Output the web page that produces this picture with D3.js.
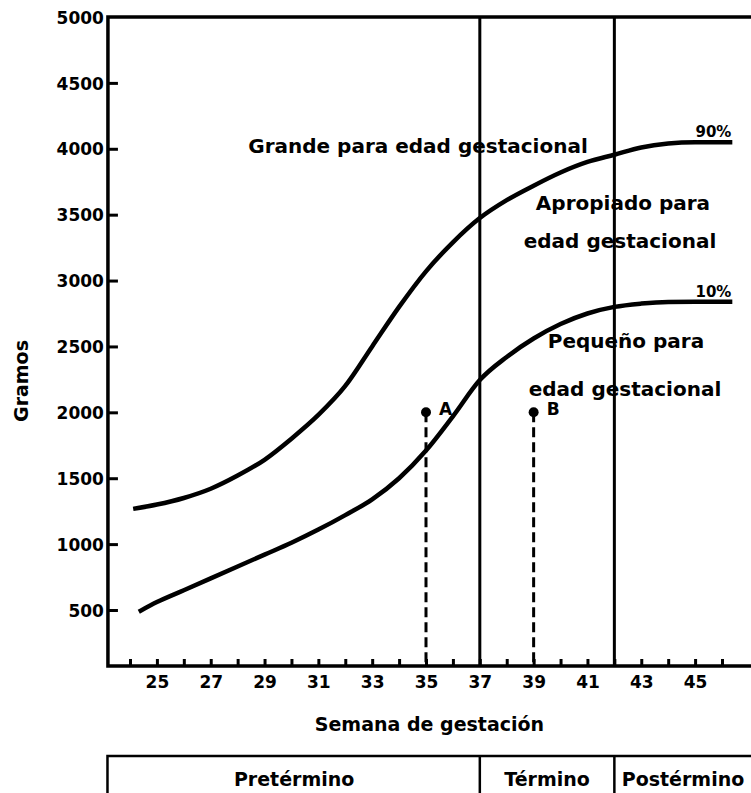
<!DOCTYPE html>
<html>
<head>
<meta charset="utf-8">
<script src="https://cdn.jsdelivr.net/npm/d3@7"></script>
<style>
  html, body { margin: 0; padding: 0; background: #fff; }
  svg { display: block; }
  text { font-family: "DejaVu Sans", sans-serif; font-weight: bold; fill: #000; }
</style>
</head>
<body>
<div id="chart"></div>
<script>
// 90th percentile curve (weeks, grams)
const weeks90 = [24.2, 25, 26, 27, 28, 29, 30, 31, 32, 33, 34, 35, 36, 37, 38, 39, 40, 41, 42, 43, 44, 45, 46.3];
const grams90 = [1270, 1300, 1350, 1420, 1520, 1640, 1800, 1980, 2200, 2500, 2800, 3070, 3290, 3474, 3610, 3720, 3820, 3900, 3955, 4010, 4040, 4050, 4050];

// 10th percentile curve
const weeks10 = [24.4, 25, 26, 27, 28, 29, 30, 31, 32, 33, 34, 35, 36, 37, 38, 39, 40, 41, 42, 43, 44, 45, 46.3];
const grams10 = [495, 560, 650, 740, 830, 920, 1010, 1110, 1220, 1340, 1500, 1710, 1970, 2245, 2420, 2560, 2670, 2750, 2800, 2825, 2838, 2840, 2840];

const yTicks = [500, 1000, 1500, 2000, 2500, 3000, 3500, 4000, 4500, 5000];
const xTicks = d3.range(24, 47);
const boundaries = [37, 42];

const cases = [
  { label: "A", week: 35, grams: 2000 },
  { label: "B", week: 39, grams: 2000 }
];

const periods = ["Pretérmino", "Término", "Postérmino"];
const periodEdges = [23.2, 37, 42, 47.1];

const width = 751, height = 793;

const svg = d3.select("#chart").append("svg")
  .attr("width", width)
  .attr("height", height);

const x = d3.scaleLinear().domain([24, 46]).range([130, 722]);
const y = d3.scaleLinear().domain([75, 5000]).range([666, 17]);
const plotL = x(23.18), plotR = width + 5, plotT = y(5000), plotB = y(75);

// y axis, ticks pointing inward
const yAxis = svg.append("g")
  .attr("transform", `translate(${plotL},0)`)
  .call(d3.axisLeft(y).tickValues(yTicks).tickSizeInner(-10).tickSizeOuter(0).tickPadding(4)
    .tickFormat(d3.format("d")));
yAxis.select(".domain").remove();
yAxis.selectAll("line").attr("stroke", "#000").attr("stroke-width", 3)
  .filter(d => d === 5000).remove();
yAxis.selectAll("text").style("font-size", "17px").attr("dy", "0.36em");

// x axis
const xAxis = svg.append("g")
  .attr("transform", `translate(0,${plotB})`)
  .call(d3.axisBottom(x).tickValues(xTicks).tickSizeInner(-7).tickSizeOuter(0).tickPadding(10)
    .tickFormat(d => d % 2 ? d : ""));
xAxis.select(".domain").remove();
xAxis.selectAll("line").attr("stroke", "#000").attr("stroke-width", 3);
xAxis.selectAll("text").style("font-size", "17px");

// frame
svg.append("path")
  .attr("d", `M${plotR},${plotT}H${plotL}V${plotB}H${plotR}`)
  .attr("fill", "none")
  .attr("stroke", "#000")
  .attr("stroke-width", 3.5);

// period boundaries
svg.append("g").selectAll("line")
  .data(boundaries)
  .join("line")
  .attr("x1", d => x(d)).attr("x2", d => x(d))
  .attr("y1", plotT).attr("y2", plotB)
  .attr("stroke", "#000")
  .attr("stroke-width", 3);

// curves
const line = d3.line().curve(d3.curveMonotoneX);
[[weeks90, grams90], [weeks10, grams10]].forEach(([ws, gs]) => {
  svg.append("path")
    .attr("d", line(ws.map((w, i) => [x(w), y(gs[i])])))
    .attr("fill", "none")
    .attr("stroke", "#000")
    .attr("stroke-width", 4.5)
    .attr("stroke-linecap", "square");
});

svg.append("text").attr("x", x(46.35)).attr("y", y(4050) - 5)
  .attr("text-anchor", "end").style("font-size", "15px").text("90%");
svg.append("text").attr("x", x(46.35)).attr("y", y(2840) - 5)
  .attr("text-anchor", "end").style("font-size", "15px").text("10%");

// cases A, B
const cg = svg.append("g").selectAll("g").data(cases).join("g");
cg.append("line")
  .attr("x1", d => x(d.week)).attr("x2", d => x(d.week))
  .attr("y1", d => y(d.grams)).attr("y2", plotB)
  .attr("stroke", "#000").attr("stroke-width", 3)
  .attr("stroke-dasharray", "10,5");
cg.append("circle")
  .attr("cx", d => x(d.week)).attr("cy", d => y(d.grams))
  .attr("r", 5).attr("fill", "#000");
cg.append("text")
  .attr("x", d => x(d.week) + 13).attr("y", d => y(d.grams) + 3)
  .style("font-size", "17px").text(d => d.label);

// region labels
const labels = [
  { text: "Grande para edad gestacional", cx: 418, cy: 153 },
  { text: "Apropiado para", cx: 623, cy: 210 },
  { text: "edad gestacional", cx: 620, cy: 248 },
  { text: "Pequeño para", cx: 626, cy: 348 },
  { text: "edad gestacional", cx: 625, cy: 396 }
];
svg.append("g").selectAll("text").data(labels).join("text")
  .attr("x", d => d.cx).attr("y", d => d.cy)
  .attr("text-anchor", "middle")
  .style("font-size", "20px")
  .text(d => d.text);

// axis titles
svg.append("text")
  .attr("x", (plotL + width) / 2).attr("y", 731)
  .attr("text-anchor", "middle").style("font-size", "19px")
  .text("Semana de gestación");
svg.append("text")
  .attr("transform", "translate(28,381) rotate(-90)")
  .attr("text-anchor", "middle").style("font-size", "19px")
  .text("Gramos");

// period table
const tTop = 756;
svg.append("path")
  .attr("d", `M${x(periodEdges[0]) - 1},${height + 5}V${tTop}H${plotR}`)
  .attr("fill", "none").attr("stroke", "#000").attr("stroke-width", 2.5);
svg.append("g").selectAll("line").data(periodEdges.slice(1, 3)).join("line")
  .attr("x1", d => x(d)).attr("x2", d => x(d))
  .attr("y1", tTop).attr("y2", height + 5)
  .attr("stroke", "#000").attr("stroke-width", 2.5);
svg.append("g").selectAll("text").data(periods).join("text")
  .attr("x", (d, i) => (x(periodEdges[i]) + x(periodEdges[i + 1])) / 2)
  .attr("y", 786)
  .attr("text-anchor", "middle").style("font-size", "19px")
  .text(d => d);
</script>
</body>
</html>
